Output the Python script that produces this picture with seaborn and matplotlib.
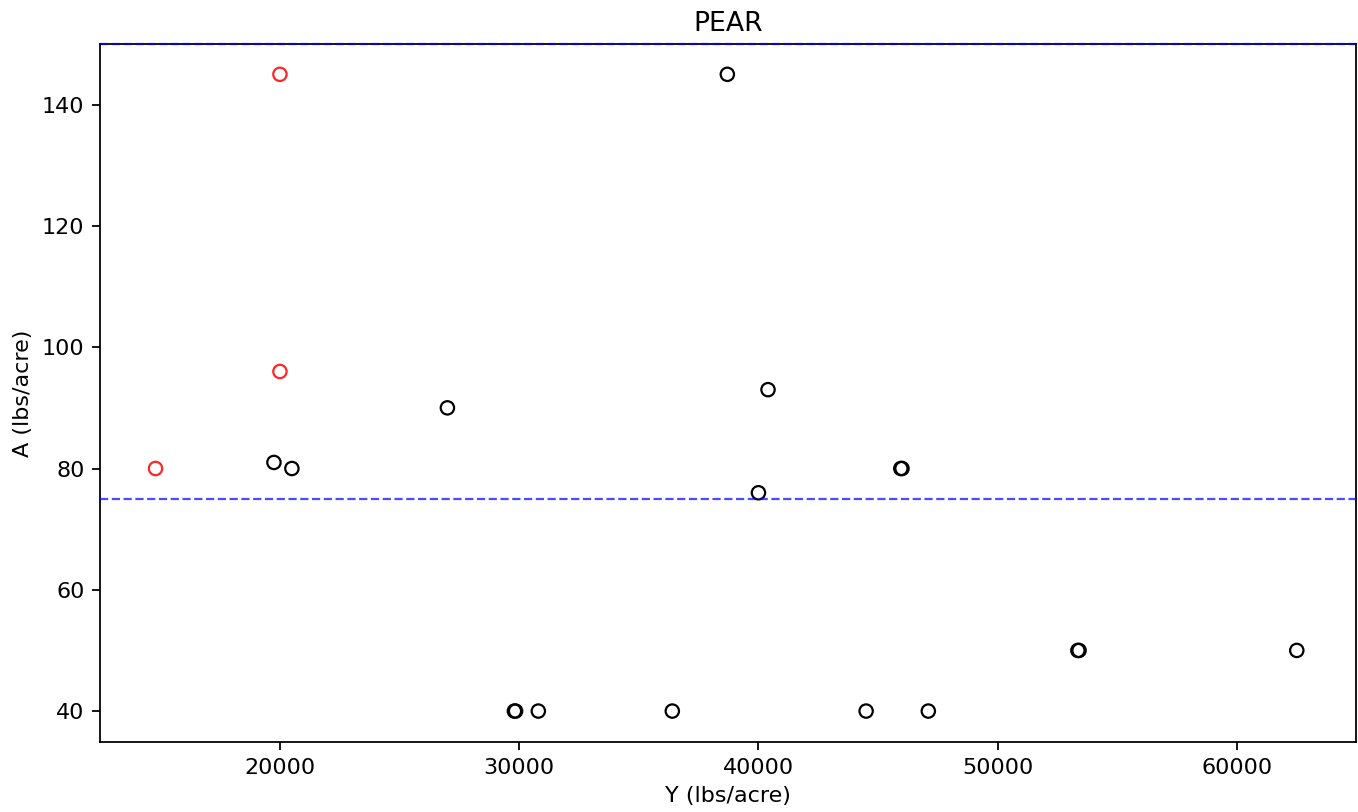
import matplotlib
matplotlib.use("Agg")
import matplotlib.pyplot as plt
import seaborn as sns
import pandas as pd

# Yield (Y) and application rate (A), both lbs/acre
yield_black = [19750, 20500, 27000, 38700, 40400, 40000, 46000, 45950,
               29800, 29850, 30800, 36400, 44500, 47100, 53400, 53350, 62500]
rate_black = [81, 80, 90, 145, 93, 76, 80, 80,
              40, 40, 40, 40, 40, 40, 50, 50, 50]

yield_red = [14800, 20000, 20000]
rate_red = [80, 145, 96]

thresholds = [75, 150]

title = "PEAR"
xlabel = "Y (lbs/acre)"
ylabel = "A (lbs/acre)"

fig = plt.figure(figsize=(1358 / 160, 812 / 160), dpi=160)
ax = fig.add_axes([100 / 1358, 70 / 812, 1256 / 1358, 698 / 812])

black_df = pd.DataFrame({"Y": yield_black, "A": rate_black})
red_df = pd.DataFrame({"Y": yield_red, "A": rate_red})

sns.scatterplot(data=black_df, x="Y", y="A", ax=ax, marker="o", s=36,
                fc="none", ec="black", linewidth=1.0)
sns.scatterplot(data=red_df, x="Y", y="A", ax=ax, marker="o", s=36,
                fc="none", ec="red", linewidth=1.0, alpha=0.85)

# threshold lines, drawn above the frame so the upper one shows on the spine
for t in thresholds:
    ax.axhline(t, color="blue", linestyle="--", linewidth=1.0, alpha=0.7,
               zorder=5, clip_on=False)

ax.set_xlim(12480, 64975)
ax.set_ylim(34.9, 150)
ax.set_xticks([20000, 30000, 40000, 50000, 60000])
ax.set_yticks([40, 60, 80, 100, 120, 140])
ax.set_title(title)
ax.set_xlabel(xlabel)
ax.set_ylabel(ylabel)

fig.savefig("out.png", dpi=160)
